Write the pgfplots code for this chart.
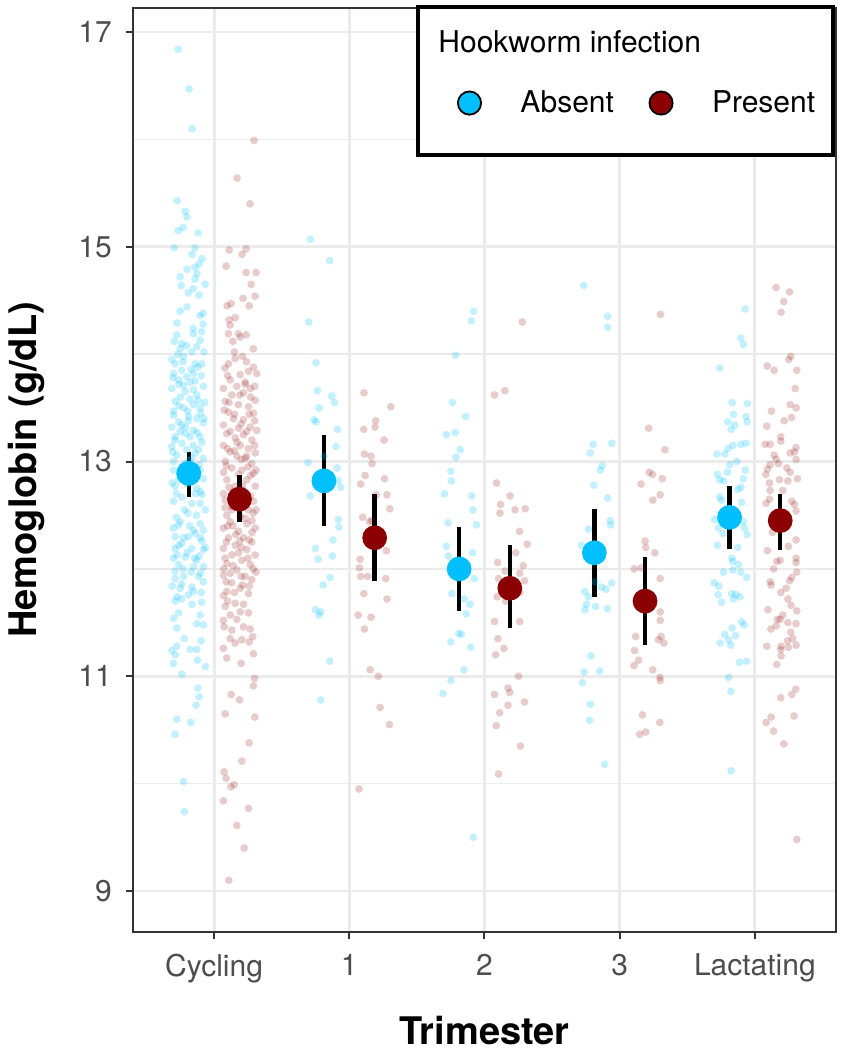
\documentclass[border=0pt]{standalone}
\usepackage{pgfplots}
\pgfplotsset{compat=1.18}
\usepackage{pgfplotstable}
\usepackage{fontspec}
\setmainfont{TeX Gyre Heros}
\definecolor{absc}{RGB}{0,191,255}
\definecolor{presc}{RGB}{139,0,0}
\definecolor{gridc}{RGB}{235,235,235}
\definecolor{gtwenty}{RGB}{51,51,51}
\definecolor{gthirty}{RGB}{77,77,77}

% jittered observations, Hookworm absent
\pgfplotstableread{
x y
0.734 16.84
0.815 16.47
0.837 16.10
0.726 15.43
0.786 15.33
0.800 15.28
0.771 15.18
0.734 15.15
0.882 15.13
0.704 14.99
0.859 14.99
0.837 14.93
0.911 14.89
0.889 14.84
0.859 14.81
0.800 14.79
0.874 14.75
0.749 14.72
0.859 14.70
0.933 14.65
0.756 14.64
0.845 14.61
0.808 14.57
0.889 14.55
0.800 14.44
0.749 14.40
0.919 14.38
0.896 14.36
0.726 14.29
0.919 14.28
0.845 14.24
0.724 14.18
0.847 14.19
0.909 14.21
0.761 14.10
0.897 14.13
0.749 14.05
0.872 14.07
0.835 14.02
0.687 13.95
0.712 13.91
0.774 13.98
0.860 13.91
0.909 13.91
0.700 13.82
0.847 13.82
0.798 13.79
0.737 13.76
0.823 13.74
0.921 13.70
0.687 13.68
0.786 13.65
0.847 13.67
0.749 13.60
0.872 13.62
0.712 13.56
0.847 13.53
0.774 13.50
0.897 13.50
0.700 13.43
0.810 13.42
0.872 13.40
0.737 13.37
0.921 13.36
0.687 13.32
0.786 13.32
0.847 13.29
0.749 13.28
0.712 13.23
0.823 13.23
0.897 13.23
0.761 13.17
0.847 13.15
0.687 13.14
0.798 13.11
0.885 13.11
0.724 13.06
0.835 13.03
0.921 13.03
0.700 13.00
0.786 12.98
0.700 12.92
0.897 12.92
0.737 12.83
0.921 12.84
0.712 12.77
0.872 12.75
0.909 12.69
0.761 12.67
0.700 12.63
0.835 12.61
0.897 12.61
0.749 12.44
0.737 12.41
0.897 12.42
0.847 12.36
0.921 12.36
0.712 12.30
0.810 12.30
0.897 12.29
0.761 12.24
0.712 12.19
0.835 12.19
0.921 12.18
0.786 12.11
0.700 12.10
0.872 12.08
0.737 12.04
0.847 12.02
0.921 12.02
0.774 11.93
0.712 11.91
0.885 11.93
0.835 11.83
0.749 11.82
0.847 11.79
0.724 11.74
0.730 14.00
0.880 13.88
0.760 13.85
0.820 13.58
0.700 13.47
0.900 13.45
0.790 13.26
0.710 13.20
0.860 13.08
0.760 12.95
0.840 12.88
0.690 12.80
0.900 12.72
0.780 12.55
0.870 12.50
0.720 12.48
0.820 12.40
0.910 12.26
0.740 12.22
0.800 12.15
0.890 12.12
0.710 11.98
0.830 11.97
0.920 11.88
0.760 11.86
0.860 13.75
0.740 13.72
0.930 13.55
0.810 13.38
0.910 13.18
0.705 14.12
0.795 14.08
0.925 14.02
0.770 13.93
0.830 13.86
0.695 13.78
0.905 13.80
0.775 13.71
0.880 13.57
0.740 13.52
0.805 13.47
0.925 13.40
0.760 13.34
0.875 13.27
0.695 13.09
0.815 13.01
0.890 12.97
0.745 12.88
0.800 12.79
0.860 12.70
0.720 12.70
0.935 12.55
0.805 12.52
0.700 12.38
0.860 12.33
0.775 12.29
0.935 12.20
0.725 12.13
0.855 12.10
0.770 12.00
0.900 11.96
0.690 11.84
0.810 11.76
0.905 11.78
0.760 11.72
0.712 11.70
0.835 11.67
0.909 11.69
0.737 11.59
0.700 11.54
0.897 11.57
0.872 11.49
0.921 11.48
0.724 11.45
0.778 11.35
0.904 11.33
0.724 11.28
0.687 11.24
0.823 11.25
0.872 11.25
0.712 11.20
0.877 11.15
0.700 11.12
0.936 11.09
0.761 11.02
0.880 10.89
0.889 10.81
0.867 10.73
0.724 10.60
0.828 10.57
0.712 10.46
0.774 10.02
0.781 9.74
1.712 15.07
1.855 14.87
1.700 14.30
1.754 13.92
1.764 13.66
1.870 13.61
1.776 13.50
1.890 13.55
1.739 13.39
1.754 13.37
1.912 13.30
1.902 13.14
1.813 13.05
1.695 12.99
1.910 12.94
1.937 12.76
1.919 12.82
1.712 12.68
1.919 12.46
1.922 12.39
1.880 12.27
1.749 12.19
1.875 12.12
1.769 12.09
1.858 11.92
1.806 11.85
1.749 11.62
1.776 11.57
1.789 11.60
1.855 11.14
1.789 10.78
2.920 14.40
2.903 14.31
2.786 13.99
2.763 13.55
2.860 13.42
2.718 13.25
2.783 13.27
2.820 13.11
2.788 13.04
2.751 12.91
2.756 12.82
2.703 12.70
2.905 12.68
2.915 12.55
2.731 12.43
2.940 12.41
2.718 12.21
2.733 12.12
2.913 12.15
2.925 11.91
2.758 11.77
2.850 11.72
2.893 11.67
2.865 11.58
2.810 11.40
2.830 11.39
2.751 11.32
2.898 11.27
2.848 11.06
2.753 10.96
2.693 10.84
2.917 9.50
3.734 14.64
3.911 14.35
3.911 14.25
3.804 13.16
3.782 13.08
3.941 13.17
3.871 12.96
3.856 12.92
3.809 12.78
3.911 12.66
3.929 12.45
3.934 12.41
3.769 12.37
3.717 12.22
3.819 11.88
3.864 11.83
3.899 11.81
3.941 11.87
3.742 11.79
3.769 11.74
3.754 11.67
3.822 11.65
3.909 11.63
3.744 11.62
3.787 11.19
3.737 11.04
3.852 11.05
3.724 10.94
3.784 10.74
3.777 10.59
3.889 10.18
4.928 14.42
4.896 14.15
4.915 14.09
4.740 13.87
4.832 13.55
4.945 13.54
4.842 13.44
4.935 13.42
4.800 13.37
4.851 13.34
4.943 13.37
4.824 13.30
4.896 13.16
4.935 13.17
4.837 13.15
4.800 13.12
4.718 13.07
4.777 13.07
4.866 13.00
4.814 12.97
4.930 12.92
4.797 12.90
4.723 12.88
4.740 12.83
4.915 12.84
4.770 12.82
4.896 12.76
4.740 12.67
4.874 12.74
4.753 12.64
4.903 12.62
4.701 12.46
4.915 12.44
4.923 12.38
4.731 12.38
4.763 12.33
4.943 12.32
4.723 12.22
4.874 12.20
4.829 12.10
4.837 12.07
4.879 12.04
4.837 11.99
4.768 11.97
4.896 11.97
4.940 11.92
4.699 11.87
4.733 11.84
4.728 11.76
4.829 11.77
4.859 11.76
4.891 11.74
4.842 11.72
4.753 11.69
4.901 11.51
4.920 11.48
4.832 11.45
4.777 11.39
4.856 11.38
4.805 11.34
4.743 11.31
4.822 11.29
4.886 11.13
4.940 11.14
4.805 10.99
4.822 10.86
4.824 10.12
}\obsA

% jittered observations, Hookworm present
\pgfplotstableread{
x y
1.296 15.99
1.170 15.64
1.266 15.40
1.111 14.97
1.237 14.98
1.207 14.93
1.089 14.82
1.237 14.76
1.311 14.76
1.274 14.65
1.214 14.52
1.303 14.54
1.126 14.47
1.096 14.45
1.259 14.45
1.155 14.34
1.111 14.32
1.118 14.27
1.106 14.19
1.180 14.19
1.237 14.18
1.138 14.12
1.193 14.16
1.106 13.91
1.156 13.96
1.291 13.88
1.254 13.84
1.193 13.81
1.119 13.76
1.230 13.74
1.316 13.82
1.069 13.68
1.168 13.70
1.267 13.68
1.131 13.62
1.217 13.64
1.304 13.57
1.082 13.56
1.180 13.53
1.254 13.51
1.106 13.46
1.291 13.45
1.143 13.40
1.217 13.39
1.069 13.34
1.267 13.32
1.180 13.31
1.316 13.29
1.094 13.26
1.217 13.25
1.156 13.22
1.279 13.20
1.069 13.15
1.193 13.15
1.254 13.12
1.119 13.09
1.304 13.08
1.168 13.05
1.230 13.03
1.082 13.00
1.279 12.98
1.131 12.94
1.205 12.92
1.291 12.89
1.094 12.83
1.242 12.83
1.156 12.77
1.304 12.77
1.069 12.70
1.230 12.70
1.082 12.64
1.291 12.63
1.131 12.58
1.254 12.55
1.094 12.50
1.193 12.49
1.119 12.44
1.242 12.42
1.069 12.38
1.304 12.38
1.180 12.35
1.217 12.29
1.106 12.29
1.279 12.25
1.156 12.22
1.069 12.19
1.242 12.18
1.131 12.13
1.304 12.13
1.205 12.08
1.094 12.05
1.267 12.04
1.168 11.99
1.069 11.94
1.230 11.93
1.279 11.90
1.131 11.87
1.193 11.82
1.094 11.79
1.254 11.77
1.210 13.98
1.080 13.87
1.270 13.60
1.150 13.44
1.240 13.28
1.100 13.12
1.200 13.02
1.270 12.87
1.140 12.72
1.220 12.60
1.290 12.52
1.100 12.40
1.160 12.32
1.260 12.27
1.080 12.10
1.180 12.15
1.290 12.00
1.120 11.96
1.210 11.85
1.070 11.75
1.230 13.72
1.110 13.55
1.300 13.38
1.170 13.18
1.070 12.90
1.250 12.95
1.130 12.55
1.280 12.45
1.200 12.20
1.090 11.88
1.290 14.05
1.150 14.02
1.240 13.93
1.100 13.80
1.300 13.70
1.190 13.62
1.075 13.48
1.260 13.44
1.200 13.35
1.120 13.28
1.300 13.15
1.150 13.10
1.240 13.05
1.090 12.96
1.180 12.88
1.310 12.92
1.210 12.78
1.110 12.76
1.270 12.68
1.170 12.60
1.080 12.57
1.310 12.55
1.230 12.47
1.140 12.40
1.280 12.34
1.090 12.25
1.190 12.26
1.250 12.10
1.140 12.03
1.310 11.97
1.070 12.00
1.200 11.93
1.260 11.84
1.150 11.78
1.100 11.70
1.082 11.65
1.156 11.68
1.217 11.67
1.119 11.57
1.193 11.60
1.254 11.59
1.069 11.52
1.168 11.53
1.217 11.46
1.267 11.44
1.131 11.43
1.074 11.46
1.119 11.35
1.205 11.34
1.286 11.37
1.156 11.31
1.259 11.32
1.069 11.26
1.094 11.17
1.200 11.12
1.291 11.21
1.299 10.98
1.291 10.91
1.126 10.83
1.188 10.78
1.082 10.65
1.301 10.62
1.259 10.38
1.205 10.21
1.074 10.11
1.089 10.05
1.124 9.97
1.148 9.99
1.069 9.84
1.254 9.77
1.168 9.61
1.222 9.40
1.109 9.10
2.109 13.64
2.307 13.51
2.196 13.38
2.191 13.32
2.107 13.30
2.257 13.20
2.112 13.07
2.161 13.05
2.168 12.98
2.117 12.87
2.085 12.79
2.260 12.84
2.198 12.69
2.279 12.69
2.299 12.56
2.099 12.48
2.149 12.44
2.166 12.45
2.274 12.17
2.080 12.09
2.075 12.01
2.085 11.93
2.136 11.93
2.270 11.91
2.107 11.77
2.279 11.72
2.065 11.57
2.161 11.55
2.112 11.44
2.154 11.06
2.215 11.00
2.228 10.71
2.297 10.55
2.072 9.95
3.279 14.30
3.074 13.62
3.152 13.66
3.089 12.80
3.189 12.68
3.119 12.60
3.114 12.52
3.226 12.55
3.301 12.56
3.259 12.35
3.316 12.23
3.231 12.15
3.097 12.06
3.152 11.98
3.286 12.03
3.104 11.91
3.261 11.96
3.296 11.89
3.094 11.74
3.157 11.70
3.261 11.78
3.074 11.51
3.261 11.51
3.099 11.35
3.144 11.26
3.082 11.20
3.251 11.00
3.174 10.89
3.187 10.85
3.074 10.83
3.296 10.76
3.174 10.73
3.112 10.66
3.087 10.54
3.266 10.35
3.104 10.09
4.302 14.37
4.215 13.31
4.335 13.11
4.218 12.90
4.243 12.88
4.158 12.79
4.315 12.84
4.300 12.69
4.245 12.64
4.188 12.26
4.193 12.20
4.260 12.15
4.108 12.00
4.160 12.01
4.300 11.91
4.300 11.60
4.300 11.52
4.118 11.37
4.307 11.37
4.287 11.34
4.327 11.31
4.111 11.24
4.140 11.15
4.106 11.10
4.245 11.06
4.297 10.99
4.300 10.96
4.168 10.64
4.297 10.57
4.193 10.48
4.148 10.46
5.157 14.62
5.256 14.58
5.214 14.49
5.194 14.39
5.266 13.98
5.251 13.95
5.091 13.89
5.142 13.85
5.310 13.85
5.298 13.68
5.261 13.53
5.305 13.50
5.271 13.41
5.123 13.47
5.216 13.38
5.088 13.33
5.192 13.23
5.192 13.19
5.076 13.16
5.113 13.16
5.305 13.13
5.293 13.09
5.261 13.08
5.142 13.06
5.157 13.02
5.305 13.02
5.113 12.97
5.175 12.98
5.093 12.93
5.236 12.94
5.261 12.90
5.081 12.88
5.315 12.84
5.182 12.83
5.244 12.82
5.108 12.80
5.113 12.73
5.206 12.73
5.273 12.63
5.108 12.65
5.293 12.60
5.083 12.61
5.305 12.54
5.155 12.52
5.130 12.34
5.305 12.27
5.248 12.21
5.093 12.17
5.187 12.08
5.305 12.10
5.162 12.07
5.305 12.06
5.138 12.00
5.310 11.97
5.273 11.92
5.256 11.89
5.113 11.88
5.120 11.85
5.192 11.78
5.231 11.82
5.244 11.72
5.268 11.66
5.096 11.62
5.310 11.61
5.206 11.57
5.167 11.53
5.187 11.53
5.244 11.50
5.305 11.49
5.157 11.47
5.118 11.44
5.266 11.41
5.241 11.33
5.280 11.35
5.194 11.28
5.088 11.28
5.305 11.29
5.248 11.27
5.192 11.25
5.194 11.19
5.162 11.11
5.303 10.88
5.273 10.83
5.192 10.80
5.290 10.63
5.120 10.62
5.083 10.57
5.138 10.49
5.214 10.37
5.310 9.48
}\obsP

% group means with error ranges
\pgfplotstableread{
x y ep em
0.8125 12.89 0.20 0.22
1.8125 12.82 0.43 0.42
2.8125 12.00 0.39 0.39
3.8125 12.15 0.41 0.41
4.8125 12.48 0.29 0.29
}\meanA
\pgfplotstableread{
x y ep em
1.1875 12.65 0.22 0.21
2.1875 12.29 0.41 0.40
3.1875 11.82 0.40 0.37
4.1875 11.70 0.41 0.41
5.1875 12.45 0.25 0.27
}\meanP

\begin{document}
\begin{tikzpicture}
\useasboundingbox (-66.5pt,-59.25pt) rectangle (354.5pt,465.75pt);
\begin{axis}[
  at={(0pt,0pt)}, anchor=south west,
  scale only axis, width=351.5pt, height=461.75pt,
  xmin=0.4, xmax=5.6, ymin=8.623, ymax=17.224,
  clip=false,
  xtick={1,2,3,4,5}, xticklabels={Cycling,1,2,3,Lactating},
  ytick={9,11,13,15,17}, minor ytick={10,12,14,16},
  xmajorgrids, ymajorgrids, yminorgrids,
  major grid style={gridc, line width=1.4pt},
  minor grid style={gridc, line width=0.7pt},
  tick align=outside, tick pos=left,
  major tick length=3.6pt, minor tick length=0pt,
  every tick/.style={gtwenty, line width=1pt},
  axis line style={gtwenty, line width=1pt},
  ticklabel style={font=\fontsize{15}{18}\selectfont, text=gthirty},
  /pgf/number format/assume math mode=true,
  yticklabel style={anchor=east, xshift=-3.5pt},
  xticklabel style={anchor=north, yshift=-4pt},
  xlabel={Trimester}, ylabel={Hemoglobin (g/dL)},
  label style={font=\fontsize{19}{23}\bfseries\selectfont},
  xlabel style={at={(axis description cs:0.5,-0.1067)}, anchor=center},
  ylabel style={at={(axis description cs:-0.1511,0.5)}, anchor=center},
  legend image code/.code={\draw[#1] plot coordinates {(5.8pt,0pt)};},
  legend style={at={(0.4616,0.8971)}, anchor=west, draw=none, fill=none,
    inner sep=0pt, legend columns=2,
    font=\fontsize{15}{18}\selectfont,
    /tikz/every odd column/.append style={column sep=17.7pt},
    /tikz/every even column/.append style={column sep=15.7pt}},
]
\addplot[forget plot, only marks, mark=*, mark size=1.95pt,
  mark options={draw=absc, draw opacity=0, fill=absc, fill opacity=0.24}] table[x=x,y=y] {\obsA};
\addplot[forget plot, only marks, mark=*, mark size=1.95pt,
  mark options={draw=presc, draw opacity=0, fill=presc, fill opacity=0.2}] table[x=x,y=y] {\obsP};
\addplot[forget plot, only marks, mark=none,
  error bars/.cd, y dir=both, y explicit, error mark=none,
  error bar style={black, line width=2.2pt}]
  table[x=x, y=y, y error plus=ep, y error minus=em] {\meanA};
\addplot[forget plot, only marks, mark=none,
  error bars/.cd, y dir=both, y explicit, error mark=none,
  error bar style={black, line width=2.2pt}]
  table[x=x, y=y, y error plus=ep, y error minus=em] {\meanP};
\addplot[forget plot, only marks, mark=*, mark size=6.2pt,
  mark options={draw=absc, draw opacity=0, fill=absc}] table[x=x,y=y] {\meanA};
\addplot[forget plot, only marks, mark=*, mark size=6.2pt,
  mark options={draw=presc, draw opacity=0, fill=presc}] table[x=x,y=y] {\meanP};
\draw[black, line width=1.6pt, fill=white]
  (rel axis cs:0.4054,0.8408) rectangle (rel axis cs:0.9957,1.0011);
\node[anchor=west, inner sep=0pt, font=\fontsize{15}{18}\selectfont]
  at (rel axis cs:0.4339,0.9632) {Hookworm infection};
\addlegendimage{mark=*, mark size=5.8pt, mark options={draw=black, fill=absc, line width=0.9pt}}
\addlegendentry{Absent}
\addlegendimage{mark=*, mark size=5.8pt, mark options={draw=black, fill=presc, line width=0.9pt}}
\addlegendentry{Present}
\end{axis}
\end{tikzpicture}
\end{document}
